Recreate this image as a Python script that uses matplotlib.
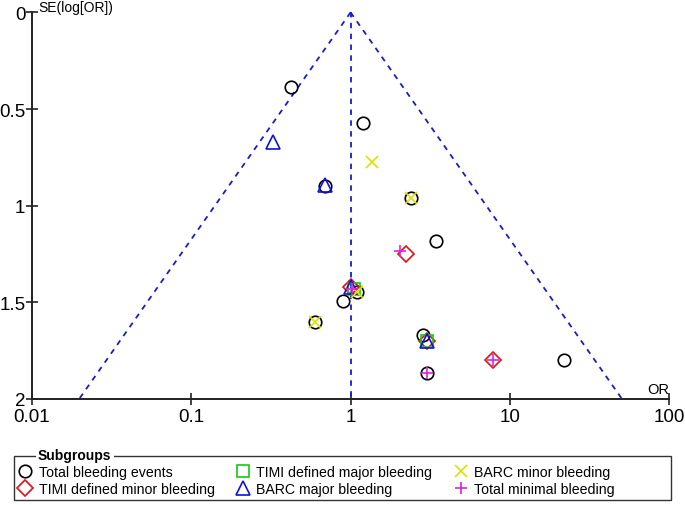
import numpy as np
import matplotlib
matplotlib.use("Agg")
import matplotlib.pyplot as plt
from matplotlib.patches import Rectangle

plt.rcParams['font.family'] = ['Liberation Sans', 'DejaVu Sans']

# ---- data (OR, SE(log OR)) per subgroup ----
total_or = [0.42, 1.20, 0.69, 2.38, 3.43, 0.89, 0.60, 1.09, 2.85, 21.9, 3.0]
total_se = [0.385, 0.57, 0.90, 0.96, 1.185, 1.495, 1.60, 1.445, 1.67, 1.80, 1.865]

timi_minor_or = [2.22, 7.77, 1.00, 3.0]
timi_minor_se = [1.25, 1.80, 1.42, 1.70]

timi_major_or = [1.05, 3.0]
timi_major_se = [1.43, 1.70]

barc_major_or = [0.327, 0.69, 1.01, 3.0]
barc_major_se = [0.67, 0.895, 1.42, 1.70]

barc_minor_or = [1.37, 2.38, 0.60, 1.09]
barc_minor_se = [0.775, 0.96, 1.60, 1.445]

minimal_or = [2.04, 7.77, 3.0, 1.02]
minimal_se = [1.235, 1.80, 1.865, 1.43]

pooled_or = 1.0
se_max = 2.0

xticks = [0.01, 0.1, 1, 10, 100]
xticklabels = ["0.01", "0.1", "1", "10", "100"]
yticks = [0, 0.5, 1, 1.5, 2]
yticklabels = ["0", "0.5", "1", "1.5", "2"]

W, H = 685, 506
fig = plt.figure(figsize=(W / 100, H / 100), dpi=100)
ax = fig.add_axes([0.0463, 0.2095, 0.931, 0.764])

# funnel
se_line = np.array([0.0, se_max])
fcol = '#1a1acc'
ax.plot(pooled_or * np.exp(-1.96 * se_line), se_line, ls=(0, (3, 3)), color=fcol, lw=1.3)
ax.plot(pooled_or * np.exp(1.96 * se_line), se_line, ls=(0, (3, 3)), color=fcol, lw=1.3)
ax.plot([pooled_or, pooled_or], [0, se_max], ls=(0, (3, 3)), color=fcol, lw=1.3)

ms = 9
mew = 1.2
h1, = ax.plot(total_or, total_se, 'o', ls='none', mfc='none', mec='black', ms=ms, mew=mew,
              label='Total bleeding events')
h2, = ax.plot(timi_minor_or, timi_minor_se, 'D', ls='none', mfc='none', mec='#dd1111', ms=8, mew=mew,
              label='TIMI defined minor bleeding')
h3, = ax.plot(timi_major_or, timi_major_se, 's', ls='none', mfc='none', mec='#11cc11', ms=8, mew=mew,
              label='TIMI defined major bleeding')
h4, = ax.plot(barc_major_or, barc_major_se, '^', ls='none', mfc='none', mec='#1111dd', ms=10, mew=mew,
              label='BARC major bleeding')
h5, = ax.plot(barc_minor_or, barc_minor_se, 'x', ls='none', color='#e0e000', ms=8, mew=mew,
              label='BARC minor bleeding')
h6, = ax.plot(minimal_or, minimal_se, '+', ls='none', color='#dd22dd', ms=9, mew=mew,
              label='Total minimal bleeding')

ax.set_xscale('log')
ax.set_xlim(0.01, 100)
ax.set_ylim(2, 0)
ax.set_xticks(xticks)
ax.set_xticklabels(xticklabels)
ax.set_yticks(yticks)
ax.set_yticklabels(yticklabels)
ax.minorticks_off()
ax.tick_params(axis='both', direction='inout', length=9, width=1.2, labelsize=13.5, colors='#222222',
               labelcolor='black')
ax.tick_params(axis='x', pad=2)
ax.tick_params(axis='y', pad=0)
for s in ['top', 'right']:
    ax.spines[s].set_visible(False)
for s in ['left', 'bottom']:
    ax.spines[s].set_linewidth(1.4)
    ax.spines[s].set_color('#222222')
    ax.spines[s].set_clip_on(False)

fig.text(38 / W, 1 - 1 / H, 'SE(log[OR])', fontsize=10, ha='left', va='top')
ax.text(100, 1.985, 'OR', fontsize=10.5, ha='right', va='bottom')

leg = fig.legend(handles=[h1, h2, h3, h4, h5, h6], ncol=3, loc='upper left',
                 bbox_to_anchor=(18 / W, 1 - 466 / H),
                 frameon=False, fontsize=10.2,
                 handlelength=1.0, handletextpad=0.45, borderaxespad=0, labelspacing=0.2,
                 borderpad=0.0, columnspacing=1.5)
box = Rectangle((14 / W, 1 - 501 / H), 657 / W, 44 / H, transform=fig.transFigure,
                fill=False, edgecolor='#333333', lw=1.0)
fig.add_artist(box)
fig.text(38 / W, 1 - 456 / H, 'Subgroups', fontsize=10, fontweight='bold', ha='left', va='center',
         bbox=dict(facecolor='white', edgecolor='none', pad=1.5))

fig.savefig('out.png', dpi=100)
